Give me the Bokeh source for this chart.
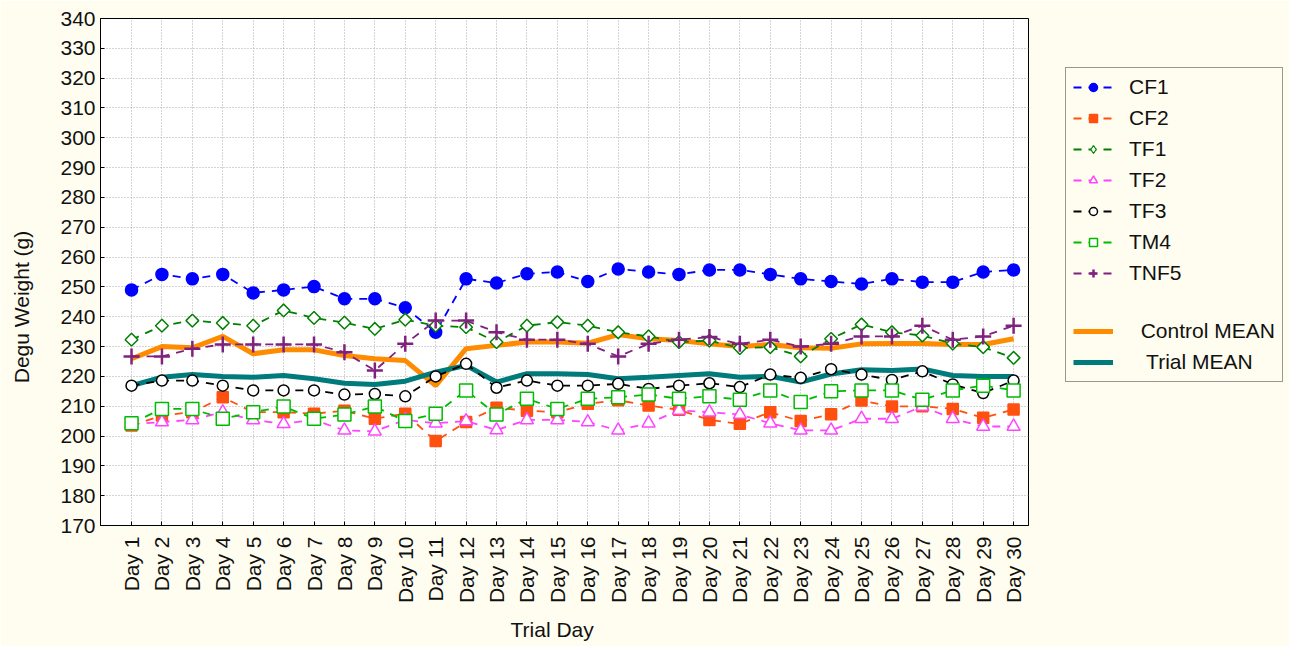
from bokeh.plotting import figure
from bokeh.models import Range1d, Legend, LegendItem, FixedTicker, Title
from bokeh.embed import file_html
from bokeh.resources import INLINE

day_labels = [f"Day {i}" for i in range(1, 31)]
y_ticks = list(range(170, 341, 10))

cf1 = [249.0, 254.2, 252.7, 254.2, 248.0, 249.0, 250.1, 246.0, 246.0, 243.0,
       234.8, 252.7, 251.3, 254.4, 255.0, 251.8, 256.0, 255.0, 254.2, 255.7,
       255.7, 254.2, 252.7, 251.8, 251.0, 252.7, 251.6, 251.6, 255.0, 255.7]
cf2 = [203.5, 206.9, 208.0, 213.0, 208.0, 208.0, 207.5, 208.5, 205.8, 207.5,
       198.3, 204.7, 209.5, 208.5, 208.0, 210.8, 212.0, 210.2, 208.8, 205.4,
       204.1, 208.0, 205.0, 207.3, 211.9, 209.9, 210.0, 209.1, 206.1, 208.9]
tf1 = [232.3, 237.0, 238.7, 237.9, 237.0, 242.1, 239.6, 238.0, 235.9, 239.0,
       237.0, 236.5, 231.5, 237.0, 238.2, 237.0, 234.8, 233.4, 231.5, 232.0,
       229.5, 229.8, 226.7, 232.6, 237.4, 234.8, 233.7, 231.0, 229.8, 226.2]
tf2 = [204.0, 204.7, 205.4, 208.0, 205.4, 204.1, 205.4, 201.9, 201.6, 205.4,
       204.3, 205.0, 202.0, 205.4, 205.4, 204.7, 201.9, 204.3, 208.6, 208.0,
       207.2, 204.3, 201.9, 201.9, 205.8, 205.8, 209.9, 205.8, 203.2, 203.2]
tf3 = [216.9, 218.6, 218.6, 216.9, 215.3, 215.3, 215.3, 213.9, 214.1, 213.3,
       220.0, 224.2, 216.2, 218.6, 216.9, 216.9, 217.5, 215.8, 216.9, 217.7,
       216.4, 220.6, 219.5, 222.4, 220.6, 218.8, 221.7, 217.3, 214.4, 218.6]
tm4 = [204.3, 209.1, 209.1, 205.8, 208.0, 209.9, 205.8, 207.2, 209.9, 205.0,
       207.5, 215.3, 207.2, 212.5, 209.1, 212.5, 213.0, 213.9, 212.5, 213.3,
       212.2, 215.3, 211.4, 215.0, 215.3, 215.3, 212.2, 215.3, 216.9, 215.3]
tnf5 = [226.7, 226.7, 229.3, 230.7, 230.7, 230.7, 230.7, 228.1, 222.0, 230.9,
        238.7, 238.7, 234.8, 232.3, 232.3, 230.9, 226.7, 230.9, 232.3, 233.2,
        230.9, 232.3, 230.0, 230.9, 233.4, 233.4, 237.0, 232.3, 233.4, 237.0]
control_mean = [225.9, 230.0, 229.6, 233.4, 227.6, 228.9, 228.9, 227.0, 225.9, 225.3,
                216.9, 229.3, 230.4, 231.5, 231.5, 231.1, 234.0, 232.6, 232.0, 230.9,
                230.0, 230.7, 229.6, 229.4, 230.9, 231.0, 231.0, 230.7, 230.7, 232.6]
trial_mean = [216.9, 219.7, 220.6, 220.0, 219.7, 220.3, 219.2, 217.7, 217.3, 218.4,
              221.4, 223.7, 218.1, 220.9, 220.9, 220.6, 219.2, 219.7, 220.3, 220.9,
              219.7, 220.0, 218.1, 220.8, 222.2, 222.0, 222.5, 220.3, 220.0, 220.0]

x = list(range(1, len(day_labels) + 1))

FONT = "Liberation Sans"
BG = "#fffdf0"
TXT = "#111111"

p = figure(frame_width=928, frame_height=507,
           min_border_left=100, min_border_right=261, min_border_top=18, min_border_bottom=121,
           output_backend="svg", toolbar_location=None,
           x_range=Range1d(-0.02, 30.49), y_range=Range1d(170, 340))
p.background_fill_color = "white"
p.border_fill_color = BG
p.outline_line_color = "black"
p.outline_line_width = 1

for g in (p.xgrid, p.ygrid):
    g.grid_line_color = "#a8a8a8"
    g.grid_line_dash = "1 2"
    g.grid_line_width = 1

p.xaxis.ticker = FixedTicker(ticks=x)
p.xaxis.major_label_overrides = {i: lab for i, lab in zip(x, day_labels)}
p.xaxis.major_label_orientation = 1.5707963
p.yaxis.ticker = FixedTicker(ticks=y_ticks)

for ax in (p.xaxis[0], p.yaxis[0]):
    ax.axis_line_color = "black"
    ax.major_tick_line_color = "black"
    ax.major_tick_in = 4
    ax.major_tick_out = 0
    ax.minor_tick_line_color = None
    ax.major_label_text_font = FONT
    ax.major_label_text_font_size = "21px"
    ax.major_label_text_color = TXT

p.xaxis.major_label_standoff = 11
p.yaxis.major_label_standoff = 5

# y title: trailing no-break spaces shift the visible words downward like the reference
p.yaxis.axis_label = "Degu Weight (g)" + "\u00a0" * 12
p.yaxis.axis_label_text_font = FONT
p.yaxis.axis_label_text_font_size = "21px"
p.yaxis.axis_label_text_font_style = "normal"
p.yaxis.axis_label_text_color = TXT
p.yaxis.axis_label_standoff = 24

xtitle = Title(text="Trial Day", align="left", offset=410,
               text_font=FONT, text_font_size="21px", text_font_style="normal",
               text_color=TXT, standoff=19)
p.add_layout(xtitle, "below")

r_ctrl = p.line(x, control_mean, line_color="#ff8c00", line_width=5)
r_trial = p.line(x, trial_mean, line_color="#007b7b", line_width=5)

series = [
    ("CF1", cf1, "#0000ff", "circle", "#0000ff", 12, 0.0),
    ("CF2", cf2, "#ff5010", "square", "#ff5010", 11, 0.0),
    ("TF1", tf1, "#008000", "square", "white", 9, 0.7854),
    ("TF2", tf2, "#ff44ff", "triangle", "white", 13, 0.0),
    ("TF3", tf3, "#000000", "circle", "white", 11, 0.0),
    ("TM4", tm4, "#00bb00", "square", "white", 13, 0.0),
    ("TNF5", tnf5, "#80207f", "cross", "#80207f", 16, 0.0),
]

items = []
for name, vals, col, marker, fill, size, ang in series:
    lw = 1.5 if marker != "cross" else 2.5
    lr = p.line(x, vals, line_color=col, line_width=1.8, line_dash="8 7")
    if ang:
        # diamond for the legend, fully covered in the plot by the rotated square
        leg = p.scatter(x, vals, marker="diamond", size=11, line_color=col,
                        fill_color=fill, line_width=1.2)
    sr = p.scatter(x, vals, marker=marker, size=size, angle=ang, line_color=col,
                   fill_color=fill, line_width=lw)
    items.append(LegendItem(label=name, renderers=[lr, leg if ang else sr]))

blank = p.line([], [], line_alpha=0)
items.append(LegendItem(label=" ", renderers=[blank]))
items.append(LegendItem(label="  Control MEAN", renderers=[r_ctrl]))
items.append(LegendItem(label="   Trial MEAN", renderers=[r_trial]))

legend = Legend(items=items, location=(37, 143))
legend.background_fill_color = BG
legend.background_fill_alpha = 1
legend.border_line_color = "#333333"
legend.border_line_width = 1
legend.label_text_font = FONT
legend.label_text_font_size = "21px"
legend.label_text_color = TXT
legend.glyph_width = 40
legend.glyph_height = 20
legend.label_height = 20
legend.label_standoff = 16
legend.spacing = 7
legend.padding = 7
legend.margin = 0
p.add_layout(legend, "right")

open("out.html", "w").write(file_html(p, INLINE))
